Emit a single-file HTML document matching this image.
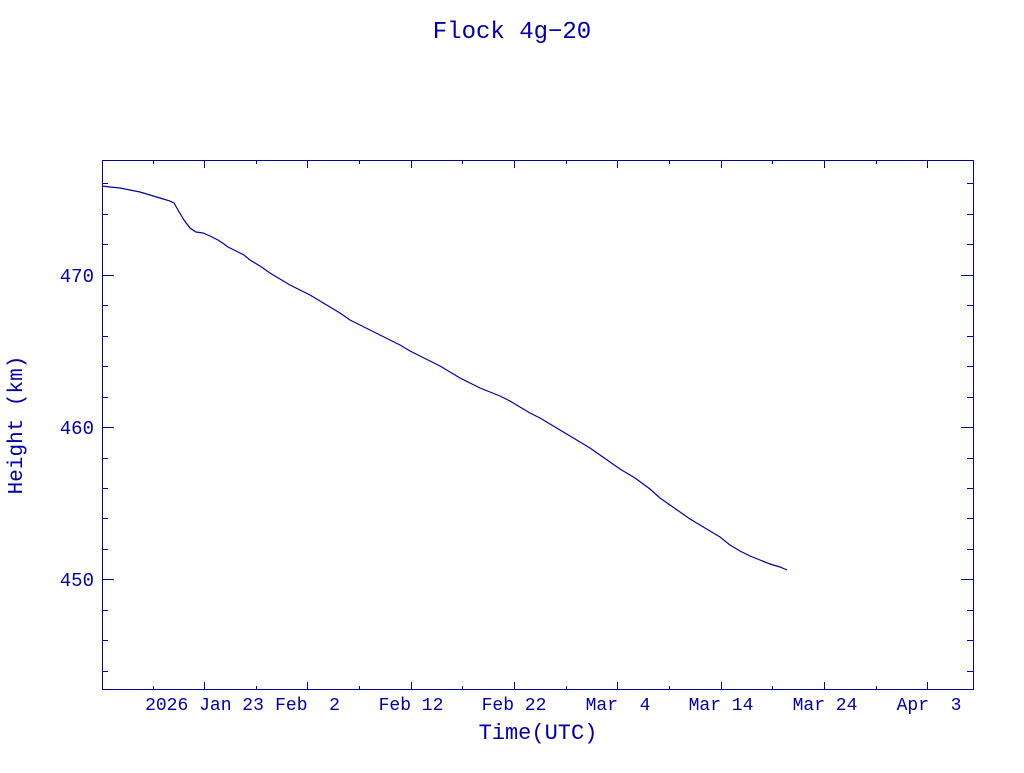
<!DOCTYPE html>
<html><head><meta charset="utf-8"><style>
html,body{margin:0;padding:0;background:#fff;}
svg text{font-family:"Liberation Mono",monospace;fill:#0000a0;white-space:pre;}
</style></head><body>
<svg width="1024" height="768" viewBox="0 0 1024 768" xmlns="http://www.w3.org/2000/svg" xml:space="preserve">
<rect width="1024" height="768" fill="#fff"/>
<text x="512" y="38" font-size="24" text-anchor="middle">Flock 4g−20</text>
<rect x="102.5" y="160.5" width="871" height="529" fill="none" stroke="#0000a0" stroke-width="1"/>
<g stroke="#0000a0" stroke-width="1">
<path d="M153.5 690v-4M256.5 690v-4M359.5 690v-4M462.5 690v-4M566.5 690v-4M669.5 690v-4M772.5 690v-4M876.5 690v-4
M204.5 690v-8M307.5 690v-8M411.5 690v-8M514.5 690v-8M617.5 690v-8M721.5 690v-8M824.5 690v-8M927.5 690v-8
M153.5 160v4M256.5 160v4M359.5 160v4M462.5 160v4M566.5 160v4M669.5 160v4M772.5 160v4M876.5 160v4
M204.5 160v8M307.5 160v8M411.5 160v8M514.5 160v8M617.5 160v8M721.5 160v8M824.5 160v8M927.5 160v8"/>
<path d="M102 183.5h6M102 214.5h6M102 244.5h6M102 275.5h12M102 305.5h6M102 336.5h6M102 366.5h6M102 397.5h6M102 427.5h12M102 458.5h6M102 488.5h6M102 518.5h6M102 549.5h6M102 579.5h12M102 610.5h6M102 640.5h6M102 671.5h6
M973 183.5h-6M973 214.5h-6M973 244.5h-6M973 275.5h-12M973 305.5h-6M973 336.5h-6M973 366.5h-6M973 397.5h-6M973 427.5h-12M973 458.5h-6M973 488.5h-6M973 518.5h-6M973 549.5h-6M973 579.5h-12M973 610.5h-6M973 640.5h-6M973 671.5h-6"/>
</g>
<g font-size="19" text-anchor="end">
<text x="94" y="282">470</text>
<text x="94" y="434">460</text>
<text x="94" y="586">450</text>
</g>
<g font-size="18" text-anchor="middle">
<text x="204.5" y="710">2026 Jan 23</text>
<text x="307.5" y="710">Feb  2</text>
<text x="411" y="710">Feb 12</text>
<text x="514" y="710">Feb 22</text>
<text x="618" y="710">Mar  4</text>
<text x="721" y="710">Mar 14</text>
<text x="825" y="710">Mar 24</text>
<text x="929" y="710">Apr  3</text>
</g>
<text x="538" y="739" font-size="22" text-anchor="middle">Time(UTC)</text>
<text transform="translate(22,425) rotate(-90)" font-size="21" text-anchor="middle">Height (km)</text>
<polyline fill="none" stroke="#0000a0" stroke-width="1.2" points="102,186 110,187 120,188 130,190 140,192 150,195 160,198 170,201 174,203 178,210 184,220 190,228 196,232 203,233 210,236 218,240 224,244 228,247 232,249 238,252 244,255 250,260 260,266 270,273 280,279 290,285 300,290 310,295 320,301 330,307 340,313 350,320 360,325 370,330 380,335 390,340 400,345 410,351 420,356 430,361 440,366 450,372 460,378 470,383 480,388 490,392 500,396 510,401 520,407 530,413 540,418 550,424 560,430 570,436 580,442 590,448 600,455 610,462 620,469 635,478 650,489 660,498 670,505 680,512 690,519 700,525 710,531 720,537 730,545 740,551 750,556 760,560 770,564 780,567 787,570"/>
</svg>
</body></html>
